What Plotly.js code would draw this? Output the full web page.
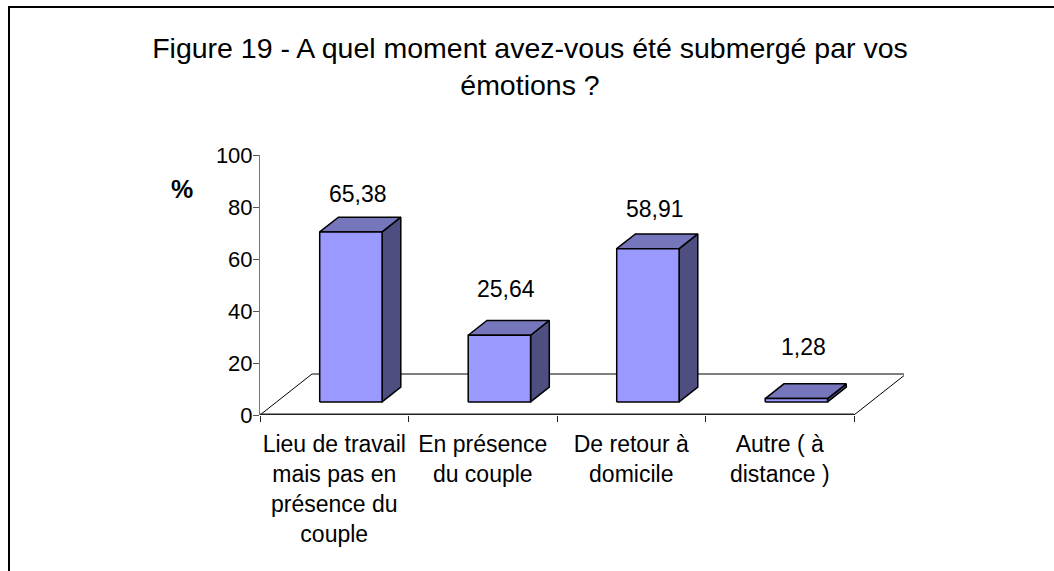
<!DOCTYPE html>
<html>
<head>
<meta charset="utf-8">
<script src="https://cdn.plot.ly/plotly-3.0.1.min.js"></script>
<style>
  html, body { margin: 0; padding: 0; background: #fff; }
  #wrap { position: relative; width: 1054px; height: 571px; overflow: hidden; }
  #chart { position: absolute; left: 0; top: 0; width: 1054px; height: 571px; }
  #frame { position: absolute; left: 8px; top: 6px; width: 1100px; height: 600px;
           border-top: 2px solid #000; border-left: 2px solid #000; pointer-events: none; }
</style>
</head>
<body>
<div id="wrap"><div id="chart"></div><div id="frame"></div></div>
<script>
// ---- data ----
const categories = [
  "Lieu de travail<br>mais pas en<br>présence du<br>couple",
  "En présence<br>du couple",
  "De retour à<br>domicile",
  "Autre ( à<br>distance )"
];
const values = [65.38, 25.64, 58.91, 1.28];
const valueLabels = ["65,38", "25,64", "58,91", "1,28"];
const yTickVals = [0, 20, 40, 60, 80, 100];
const titleText = "Figure 19 - A quel moment avez-vous été submergé par vos<br>émotions ?";
const yTitle = "%";

// ---- geometry / style ----
const W = 1054, H = 571;
const plotL = 260, plotR = 904, plotT = 155, plotB = 415;
const catPx = 148.5;
const xmax = (plotR - plotL) / catPx;
const DX = 52 / catPx;                       // floor depth in x units
const DY = 41 / (plotB - plotT) * 100;       // floor depth in y units
const fd = 0.32, bd = 0.68;                  // bar front/back depth fractions
const barW = 0.42;
const FONT = "Liberation Sans, Arial, sans-serif";
const cFront = "#9999FF", cTop = "#7676BC", cSide = "#4E4E80";

const n = categories.length;
const traces = [];
// floor
traces.push({
  x: [0, n, n + DX, DX, 0], y: [0, 0, DY, DY, 0],
  type: "scatter", mode: "lines", fill: "toself", fillcolor: "#ffffff",
  line: { color: "#000", width: 1 }, hoverinfo: "skip"
});
// front edge of floor
traces.push({
  x: [0, n], y: [0, 0], type: "scatter", mode: "lines",
  line: { color: "#222", width: 3 }, hoverinfo: "skip"
});

const ann = [];
values.forEach((v, i) => {
  const cx = i + 0.5 + fd * DX;
  const xl = cx - barW / 2, xr = cx + barW / 2;
  const base = fd * DY, top = base + v;
  const ddx = (bd - fd) * DX, ddy = (bd - fd) * DY;
  const edge = { color: "#000", width: 1.5 };
  // side face
  traces.push({
    x: [xr, xr + ddx, xr + ddx, xr, xr], y: [base, base + ddy, top + ddy, top, base],
    type: "scatter", mode: "lines", fill: "toself", fillcolor: cSide, line: edge, hoverinfo: "skip"
  });
  // top face
  traces.push({
    x: [xl, xr, xr + ddx, xl + ddx, xl], y: [top, top, top + ddy, top + ddy, top],
    type: "scatter", mode: "lines", fill: "toself", fillcolor: cTop, line: edge, hoverinfo: "skip"
  });
  // front face
  traces.push({
    x: [xl, xr, xr, xl, xl], y: [base, base, top, top, base],
    type: "scatter", mode: "lines", fill: "toself", fillcolor: cFront, line: edge, hoverinfo: "skip"
  });
  ann.push({
    x: i + 0.5 + 0.45 * DX, y: 0.92 * v + 25, xref: "x", yref: "y",
    text: valueLabels[i], showarrow: false,
    font: { family: FONT, size: 23, color: "#000" }
  });
});

ann.push({
  x: -78 / (plotR - plotL), y: (plotB - 189) / (plotB - plotT), xref: "paper", yref: "paper",
  xanchor: "center", yanchor: "middle",
  text: "<b>" + yTitle + "</b>", showarrow: false,
  font: { family: FONT, size: 25, color: "#000" }
});

const layout = {
  width: W, height: H,
  margin: { l: plotL, r: W - plotR, t: plotT, b: H - plotB, pad: 0 },
  paper_bgcolor: "rgba(0,0,0,0)", plot_bgcolor: "rgba(0,0,0,0)",
  showlegend: false,
  title: {
    text: titleText,
    font: { family: FONT, size: 28.5, color: "#000" },
    x: 530 / W, xanchor: "center", xref: "container",
    y: 1 - 58 / H, yanchor: "top", yref: "container"
  },
  xaxis: {
    range: [0, xmax], showgrid: false, zeroline: false, showline: false,
    tickmode: "array", tickvals: categories.map((c, i) => i + 0.5), ticktext: categories,
    ticks: "", tickfont: { family: FONT, size: 23, color: "#000" },
    ticklabelstandoff: 13,
    minor: { tickmode: "array", tickvals: [0, 1, 2, 3, 4], ticks: "outside", ticklen: 6, tickcolor: "#222", tickwidth: 1, showgrid: false },
    fixedrange: true
  },
  yaxis: {
    range: [0, 100], showgrid: false, zeroline: false,
    showline: true, linecolor: "#777", linewidth: 1,
    tickmode: "array", tickvals: yTickVals, ticks: "outside", ticklen: 6, tickcolor: "#555", tickwidth: 1,
    tickfont: { family: FONT, size: 22, color: "#000" },
    ticklabelstandoff: -4,
    fixedrange: true
  },
  annotations: ann
};

Plotly.newPlot("chart", traces, layout, { staticPlot: true, displayModeBar: false });
</script>
</body>
</html>
